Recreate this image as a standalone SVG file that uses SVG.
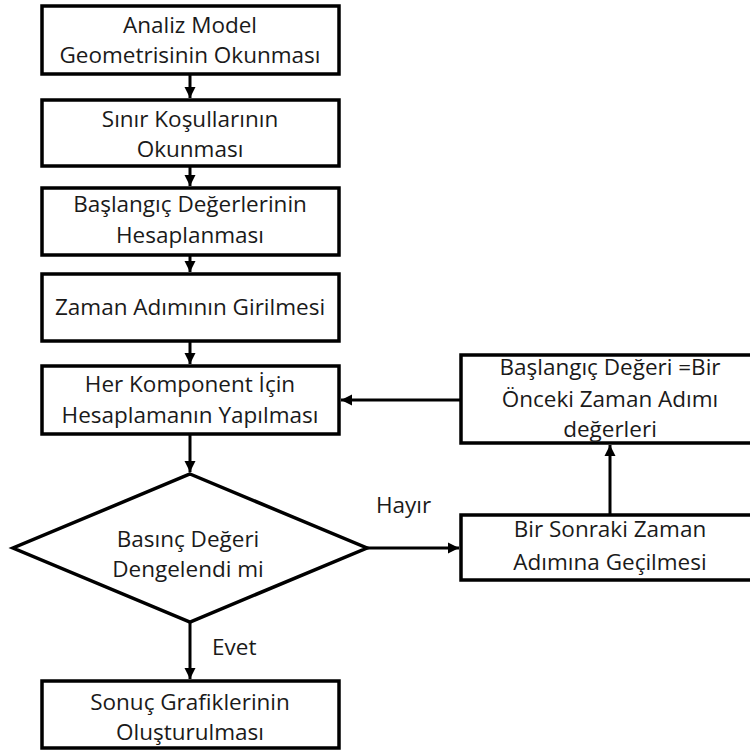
<svg xmlns="http://www.w3.org/2000/svg" width="750" height="751" viewBox="0 0 750 751">
<defs>
<marker id="ah" markerUnits="userSpaceOnUse" markerWidth="12" markerHeight="12" refX="11" refY="6" orient="auto">
<path d="M0,0.5 L11,6 L0,11.5 z" fill="#000"/>
</marker>
<style>
.box{fill:#fff;stroke:#000;stroke-width:3.5}
.t{font-family:"Open Sans","Liberation Sans",sans-serif;font-size:22.5px;fill:#1a1a1a;text-anchor:middle}
.l{font-family:"Open Sans","Liberation Sans",sans-serif;font-size:22.5px;fill:#1a1a1a}
.c{stroke:#000;stroke-width:3;fill:none;marker-end:url(#ah)}
</style>
</defs>
<rect width="750" height="751" fill="#fff"/>
<g id="connectors">
<line class="c" x1="190" y1="74" x2="190" y2="98"/>
<line class="c" x1="190" y1="166" x2="190" y2="186"/>
<line class="c" x1="190" y1="255" x2="190" y2="272"/>
<line class="c" x1="190" y1="341" x2="190" y2="364"/>
<line class="c" x1="190" y1="434" x2="190" y2="472"/>
<line class="c" x1="190" y1="622" x2="190" y2="679"/>
<line class="c" x1="461" y1="400" x2="341" y2="400"/>
<line class="c" x1="367" y1="548" x2="459" y2="548"/>
<line class="c" x1="610" y1="515" x2="610" y2="445"/>
<text class="l" x="376" y="513">Hayır</text>
<text class="l" x="212" y="655">Evet</text>
</g>
<g id="n1"><rect class="box" x="42" y="6" width="297" height="68"/>
<text class="t" x="190" y="33">Analiz Model</text><text class="t" x="190" y="63">Geometrisinin Okunması</text></g>
<g id="n2"><rect class="box" x="42" y="100" width="297" height="66"/>
<text class="t" x="190" y="127">Sınır Koşullarının</text><text class="t" x="190" y="157">Okunması</text></g>
<g id="n3"><rect class="box" x="42" y="188" width="297" height="67"/>
<text class="t" x="190" y="212">Başlangıç Değerlerinin</text><text class="t" x="190" y="243">Hesaplanması</text></g>
<g id="n4"><rect class="box" x="42" y="274" width="297" height="67"/>
<text class="t" x="190" y="315">Zaman Adımının Girilmesi</text></g>
<g id="n5"><rect class="box" x="42" y="366" width="297" height="68"/>
<text class="t" x="190" y="392">Her Komponent İçin</text><text class="t" x="190" y="423">Hesaplamanın Yapılması</text></g>
<g id="n6"><polygon class="box" points="190,474 367,548 190,622 13,548"/>
<text class="t" x="188" y="547">Basınç Değeri</text><text class="t" x="188" y="577">Dengelendi mi</text></g>
<g id="n7"><rect class="box" x="42" y="681" width="297" height="67"/>
<text class="t" x="190" y="710">Sonuç Grafiklerinin</text><text class="t" x="190" y="740">Oluşturulması</text></g>
<g id="n8"><rect class="box" x="461" y="355" width="310" height="88"/>
<text class="t" x="610" y="375">Başlangıç Değeri =Bir</text><text class="t" x="610" y="407">Önceki Zaman Adımı</text><text class="t" x="610" y="437">değerleri</text></g>
<g id="n9"><rect class="box" x="461" y="515" width="310" height="65"/>
<text class="t" x="610" y="537">Bir Sonraki Zaman</text><text class="t" x="610" y="570">Adımına Geçilmesi</text></g>
</svg>
